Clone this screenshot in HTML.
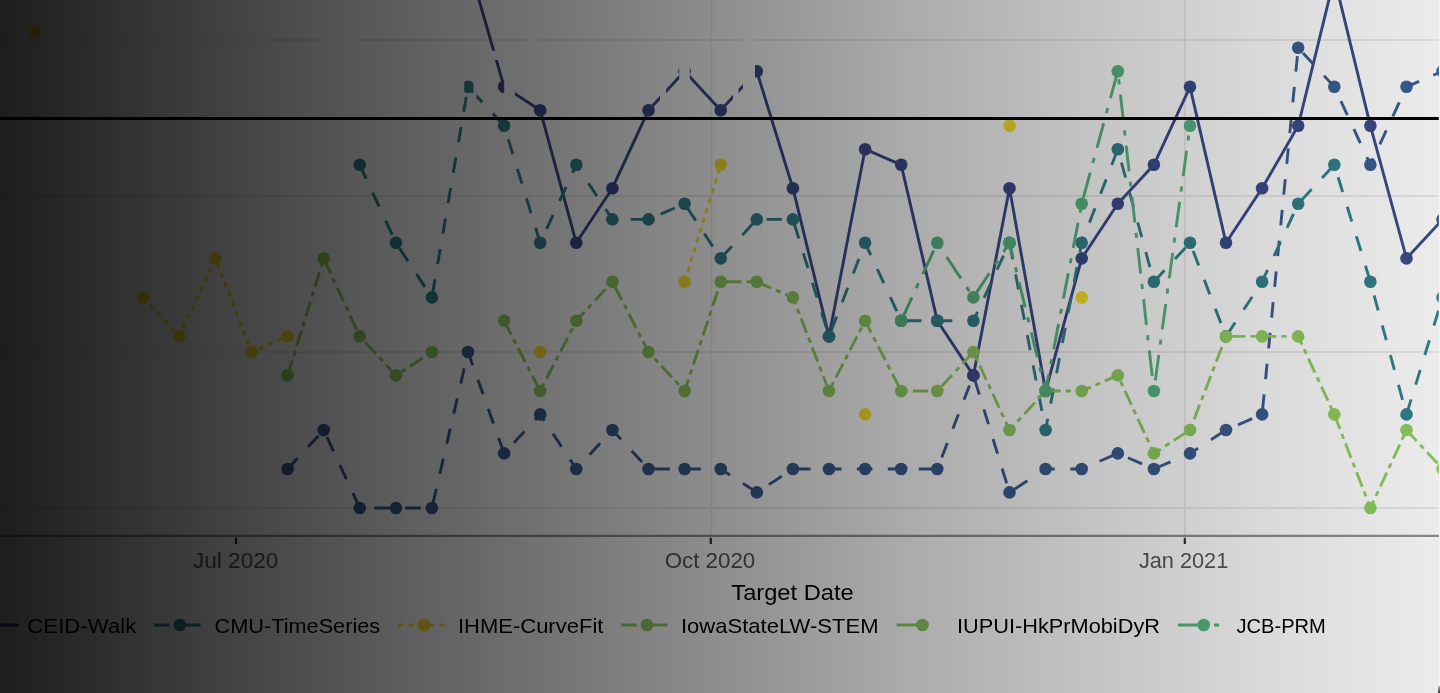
<!DOCTYPE html>
<html><head><meta charset="utf-8">
<style>
html,body{margin:0;padding:0;background:#fff;}
body{width:1440px;height:693px;overflow:hidden;position:relative;font-family:"Liberation Sans",sans-serif;}
svg{position:absolute;left:0;top:0;will-change:transform;}
.tk{font-size:21.6px;fill:#5a5a5a;}
.ti{font-size:21.4px;fill:#000;}
.lg{font-size:20.6px;fill:#000;}
#ov{position:absolute;left:0;top:0;width:1440px;height:693px;background:linear-gradient(to right, rgba(0,0,0,0.886) 0%, rgba(0,0,0,0.773) 12.5%, rgba(0,0,0,0.659) 25%, rgba(0,0,0,0.553) 37.5%, rgba(0,0,0,0.443) 50%, rgba(0,0,0,0.333) 62.5%, rgba(0,0,0,0.239) 75%, rgba(0,0,0,0.149) 87.5%, rgba(0,0,0,0.075) 100%);}
</style></head><body>
<svg width="1440" height="693" viewBox="0 0 1440 693" font-family="Liberation Sans, sans-serif">
<rect x="0" y="0" width="1440" height="693" fill="#fff"/>
<defs><clipPath id="pc"><rect x="0" y="0" width="1438.8" height="535"/></clipPath></defs>
<g clip-path="url(#pc)">
<g stroke="#ebebeb" stroke-width="1.8" fill="none">
<path d="M0,40H1440 M0,196H1440 M0,352H1440 M0,508H1440"/>
<path d="M711.3,0V535 M1184.8,0V535"/>
</g>
<g>
<path d="M287.6,469.0 L323.7,430.0 L359.8,508.0 L395.9,508.0 L431.9,508.0 L468.0,352.0 L504.1,453.4 L540.2,414.4 L576.3,469.0 L612.4,430.0 L648.5,469.0 L684.6,469.0 L720.7,469.0 L756.8,492.4 L792.9,469.0 L829.0,469.0 L865.1,469.0 L901.2,469.0 L937.3,469.0 L973.4,375.4 L1009.5,492.4 L1045.6,469.0 L1081.7,469.0 L1117.8,453.4 L1153.9,469.0 L1190.0,453.4 L1226.0,430.0 L1262.1,414.4 L1298.2,47.8 L1334.3,86.8 L1370.4,164.8 L1406.5,86.8 L1442.6,71.2" fill="none" stroke="#3c5f92" stroke-width="2.9" stroke-dasharray="15.45,15.45" stroke-dashoffset="0.9" stroke-linejoin="round"/>
<circle cx="287.6" cy="469.0" r="6.3" fill="#3c5f92"/>
<circle cx="323.7" cy="430.0" r="6.3" fill="#3c5f92"/>
<circle cx="359.8" cy="508.0" r="6.3" fill="#3c5f92"/>
<circle cx="395.9" cy="508.0" r="6.3" fill="#3c5f92"/>
<circle cx="431.9" cy="508.0" r="6.3" fill="#3c5f92"/>
<circle cx="468.0" cy="352.0" r="6.3" fill="#3c5f92"/>
<circle cx="504.1" cy="453.4" r="6.3" fill="#3c5f92"/>
<circle cx="540.2" cy="414.4" r="6.3" fill="#3c5f92"/>
<circle cx="576.3" cy="469.0" r="6.3" fill="#3c5f92"/>
<circle cx="612.4" cy="430.0" r="6.3" fill="#3c5f92"/>
<circle cx="648.5" cy="469.0" r="6.3" fill="#3c5f92"/>
<circle cx="684.6" cy="469.0" r="6.3" fill="#3c5f92"/>
<circle cx="720.7" cy="469.0" r="6.3" fill="#3c5f92"/>
<circle cx="756.8" cy="492.4" r="6.3" fill="#3c5f92"/>
<circle cx="792.9" cy="469.0" r="6.3" fill="#3c5f92"/>
<circle cx="829.0" cy="469.0" r="6.3" fill="#3c5f92"/>
<circle cx="865.1" cy="469.0" r="6.3" fill="#3c5f92"/>
<circle cx="901.2" cy="469.0" r="6.3" fill="#3c5f92"/>
<circle cx="937.3" cy="469.0" r="6.3" fill="#3c5f92"/>
<circle cx="973.4" cy="375.4" r="6.3" fill="#3c5f92"/>
<circle cx="1009.5" cy="492.4" r="6.3" fill="#3c5f92"/>
<circle cx="1045.6" cy="469.0" r="6.3" fill="#3c5f92"/>
<circle cx="1081.7" cy="469.0" r="6.3" fill="#3c5f92"/>
<circle cx="1117.8" cy="453.4" r="6.3" fill="#3c5f92"/>
<circle cx="1153.9" cy="469.0" r="6.3" fill="#3c5f92"/>
<circle cx="1190.0" cy="453.4" r="6.3" fill="#3c5f92"/>
<circle cx="1226.0" cy="430.0" r="6.3" fill="#3c5f92"/>
<circle cx="1262.1" cy="414.4" r="6.3" fill="#3c5f92"/>
<circle cx="1298.2" cy="47.8" r="6.3" fill="#3c5f92"/>
<circle cx="1334.3" cy="86.8" r="6.3" fill="#3c5f92"/>
<circle cx="1370.4" cy="164.8" r="6.3" fill="#3c5f92"/>
<circle cx="1406.5" cy="86.8" r="6.3" fill="#3c5f92"/>
<circle cx="1442.6" cy="71.2" r="6.3" fill="#3c5f92"/>
<path d="M468.0,-38.0 L504.1,86.8 L540.2,110.2 L576.3,242.8 L612.4,188.2 L648.5,110.2 L684.6,71.2 L720.7,110.2 L756.8,71.2 L792.9,188.2 L829.0,336.4 L865.1,149.2 L901.2,164.8 L937.3,320.8 L973.4,375.4 L1009.5,188.2 L1045.6,391.0 L1081.7,258.4 L1117.8,203.8 L1153.9,164.8 L1190.0,86.8 L1226.0,242.8 L1262.1,188.2 L1298.2,125.8 L1334.3,-22.4 L1370.4,125.8 L1406.5,258.4 L1442.6,219.4" fill="none" stroke="#3d4d8c" stroke-width="2.9" stroke-linejoin="round"/>
<circle cx="468.0" cy="-38.0" r="6.3" fill="#3d4d8c"/>
<circle cx="504.1" cy="86.8" r="6.3" fill="#3d4d8c"/>
<circle cx="540.2" cy="110.2" r="6.3" fill="#3d4d8c"/>
<circle cx="576.3" cy="242.8" r="6.3" fill="#3d4d8c"/>
<circle cx="612.4" cy="188.2" r="6.3" fill="#3d4d8c"/>
<circle cx="648.5" cy="110.2" r="6.3" fill="#3d4d8c"/>
<circle cx="684.6" cy="71.2" r="6.3" fill="#3d4d8c"/>
<circle cx="720.7" cy="110.2" r="6.3" fill="#3d4d8c"/>
<circle cx="756.8" cy="71.2" r="6.3" fill="#3d4d8c"/>
<circle cx="792.9" cy="188.2" r="6.3" fill="#3d4d8c"/>
<circle cx="829.0" cy="336.4" r="6.3" fill="#3d4d8c"/>
<circle cx="865.1" cy="149.2" r="6.3" fill="#3d4d8c"/>
<circle cx="901.2" cy="164.8" r="6.3" fill="#3d4d8c"/>
<circle cx="937.3" cy="320.8" r="6.3" fill="#3d4d8c"/>
<circle cx="973.4" cy="375.4" r="6.3" fill="#3d4d8c"/>
<circle cx="1009.5" cy="188.2" r="6.3" fill="#3d4d8c"/>
<circle cx="1045.6" cy="391.0" r="6.3" fill="#3d4d8c"/>
<circle cx="1081.7" cy="258.4" r="6.3" fill="#3d4d8c"/>
<circle cx="1117.8" cy="203.8" r="6.3" fill="#3d4d8c"/>
<circle cx="1153.9" cy="164.8" r="6.3" fill="#3d4d8c"/>
<circle cx="1190.0" cy="86.8" r="6.3" fill="#3d4d8c"/>
<circle cx="1226.0" cy="242.8" r="6.3" fill="#3d4d8c"/>
<circle cx="1262.1" cy="188.2" r="6.3" fill="#3d4d8c"/>
<circle cx="1298.2" cy="125.8" r="6.3" fill="#3d4d8c"/>
<circle cx="1334.3" cy="-22.4" r="6.3" fill="#3d4d8c"/>
<circle cx="1370.4" cy="125.8" r="6.3" fill="#3d4d8c"/>
<circle cx="1406.5" cy="258.4" r="6.3" fill="#3d4d8c"/>
<circle cx="1442.6" cy="219.4" r="6.3" fill="#3d4d8c"/>
<path d="M359.8,164.8 L395.9,242.8 L431.9,297.4 L468.0,86.8 L504.1,125.8 L540.2,242.8 L576.3,164.8 L612.4,219.4 L648.5,219.4 L684.6,203.8 L720.7,258.4 L756.8,219.4 L792.9,219.4 L829.0,336.4 L865.1,242.8 L901.2,320.8 L937.3,320.8 L973.4,320.8 L1009.5,242.8 L1045.6,430.0 L1081.7,242.8 L1117.8,149.2 L1153.9,281.8 L1190.0,242.8 L1226.0,336.4 L1262.1,281.8 L1298.2,203.8 L1334.3,164.8 L1370.4,281.8 L1406.5,414.4 L1442.6,297.4" fill="none" stroke="#33838d" stroke-width="2.9" stroke-dasharray="15.45,15.45" stroke-dashoffset="0.3" stroke-linejoin="round"/>
<circle cx="359.8" cy="164.8" r="6.3" fill="#33838d"/>
<circle cx="395.9" cy="242.8" r="6.3" fill="#33838d"/>
<circle cx="431.9" cy="297.4" r="6.3" fill="#33838d"/>
<circle cx="468.0" cy="86.8" r="6.3" fill="#33838d"/>
<circle cx="504.1" cy="125.8" r="6.3" fill="#33838d"/>
<circle cx="540.2" cy="242.8" r="6.3" fill="#33838d"/>
<circle cx="576.3" cy="164.8" r="6.3" fill="#33838d"/>
<circle cx="612.4" cy="219.4" r="6.3" fill="#33838d"/>
<circle cx="648.5" cy="219.4" r="6.3" fill="#33838d"/>
<circle cx="684.6" cy="203.8" r="6.3" fill="#33838d"/>
<circle cx="720.7" cy="258.4" r="6.3" fill="#33838d"/>
<circle cx="756.8" cy="219.4" r="6.3" fill="#33838d"/>
<circle cx="792.9" cy="219.4" r="6.3" fill="#33838d"/>
<circle cx="829.0" cy="336.4" r="6.3" fill="#33838d"/>
<circle cx="865.1" cy="242.8" r="6.3" fill="#33838d"/>
<circle cx="901.2" cy="320.8" r="6.3" fill="#33838d"/>
<circle cx="937.3" cy="320.8" r="6.3" fill="#33838d"/>
<circle cx="973.4" cy="320.8" r="6.3" fill="#33838d"/>
<circle cx="1009.5" cy="242.8" r="6.3" fill="#33838d"/>
<circle cx="1045.6" cy="430.0" r="6.3" fill="#33838d"/>
<circle cx="1081.7" cy="242.8" r="6.3" fill="#33838d"/>
<circle cx="1117.8" cy="149.2" r="6.3" fill="#33838d"/>
<circle cx="1153.9" cy="281.8" r="6.3" fill="#33838d"/>
<circle cx="1190.0" cy="242.8" r="6.3" fill="#33838d"/>
<circle cx="1226.0" cy="336.4" r="6.3" fill="#33838d"/>
<circle cx="1262.1" cy="281.8" r="6.3" fill="#33838d"/>
<circle cx="1298.2" cy="203.8" r="6.3" fill="#33838d"/>
<circle cx="1334.3" cy="164.8" r="6.3" fill="#33838d"/>
<circle cx="1370.4" cy="281.8" r="6.3" fill="#33838d"/>
<circle cx="1406.5" cy="414.4" r="6.3" fill="#33838d"/>
<circle cx="1442.6" cy="297.4" r="6.3" fill="#33838d"/>
<path d="M143.2,297.4 L179.3,336.4 L215.4,258.4 L251.5,352.0 L287.6,336.4" fill="none" stroke="#fbe32e" stroke-width="2.9" stroke-dasharray="5.15,5.15" stroke-linejoin="round"/>
<path d="M684.6,281.8 L720.7,164.8" fill="none" stroke="#fbe32e" stroke-width="2.9" stroke-dasharray="5.15,5.15" stroke-linejoin="round"/>
<circle cx="34.9" cy="32.2" r="6.3" fill="#fbe32e"/>
<circle cx="143.2" cy="297.4" r="6.3" fill="#fbe32e"/>
<circle cx="179.3" cy="336.4" r="6.3" fill="#fbe32e"/>
<circle cx="215.4" cy="258.4" r="6.3" fill="#fbe32e"/>
<circle cx="251.5" cy="352.0" r="6.3" fill="#fbe32e"/>
<circle cx="287.6" cy="336.4" r="6.3" fill="#fbe32e"/>
<circle cx="540.2" cy="352.0" r="6.3" fill="#fbe32e"/>
<circle cx="684.6" cy="281.8" r="6.3" fill="#fbe32e"/>
<circle cx="720.7" cy="164.8" r="6.3" fill="#fbe32e"/>
<circle cx="865.1" cy="414.4" r="6.3" fill="#fbe32e"/>
<circle cx="1009.5" cy="125.8" r="6.3" fill="#fbe32e"/>
<circle cx="1081.7" cy="297.4" r="6.3" fill="#fbe32e"/>
<path d="M287.6,375.4 L323.7,258.4 L359.8,336.4 L395.9,375.4 L431.9,352.0" fill="none" stroke="#92cf62" stroke-width="2.9" stroke-dasharray="15.45,5.15,5.15,5.15" stroke-linejoin="round"/>
<path d="M504.1,320.8 L540.2,391.0 L576.3,320.8 L612.4,281.8 L648.5,352.0 L684.6,391.0 L720.7,281.8 L756.8,281.8 L792.9,297.4 L829.0,391.0 L865.1,320.8 L901.2,391.0 L937.3,391.0 L973.4,352.0 L1009.5,430.0 L1045.6,391.0 L1081.7,391.0 L1117.8,375.4 L1153.9,453.4 L1190.0,430.0 L1226.0,336.4 L1262.1,336.4 L1298.2,336.4 L1334.3,414.4 L1370.4,508.0 L1406.5,430.0 L1442.6,469.0" fill="none" stroke="#92cf62" stroke-width="2.9" stroke-dasharray="15.45,5.15,5.15,5.15" stroke-linejoin="round"/>
<circle cx="287.6" cy="375.4" r="6.3" fill="#92cf62"/>
<circle cx="323.7" cy="258.4" r="6.3" fill="#92cf62"/>
<circle cx="359.8" cy="336.4" r="6.3" fill="#92cf62"/>
<circle cx="395.9" cy="375.4" r="6.3" fill="#92cf62"/>
<circle cx="431.9" cy="352.0" r="6.3" fill="#92cf62"/>
<circle cx="504.1" cy="320.8" r="6.3" fill="#92cf62"/>
<circle cx="540.2" cy="391.0" r="6.3" fill="#92cf62"/>
<circle cx="576.3" cy="320.8" r="6.3" fill="#92cf62"/>
<circle cx="612.4" cy="281.8" r="6.3" fill="#92cf62"/>
<circle cx="648.5" cy="352.0" r="6.3" fill="#92cf62"/>
<circle cx="684.6" cy="391.0" r="6.3" fill="#92cf62"/>
<circle cx="720.7" cy="281.8" r="6.3" fill="#92cf62"/>
<circle cx="756.8" cy="281.8" r="6.3" fill="#92cf62"/>
<circle cx="792.9" cy="297.4" r="6.3" fill="#92cf62"/>
<circle cx="829.0" cy="391.0" r="6.3" fill="#92cf62"/>
<circle cx="865.1" cy="320.8" r="6.3" fill="#92cf62"/>
<circle cx="901.2" cy="391.0" r="6.3" fill="#92cf62"/>
<circle cx="937.3" cy="391.0" r="6.3" fill="#92cf62"/>
<circle cx="973.4" cy="352.0" r="6.3" fill="#92cf62"/>
<circle cx="1009.5" cy="430.0" r="6.3" fill="#92cf62"/>
<circle cx="1045.6" cy="391.0" r="6.3" fill="#92cf62"/>
<circle cx="1081.7" cy="391.0" r="6.3" fill="#92cf62"/>
<circle cx="1117.8" cy="375.4" r="6.3" fill="#92cf62"/>
<circle cx="1153.9" cy="453.4" r="6.3" fill="#92cf62"/>
<circle cx="1190.0" cy="430.0" r="6.3" fill="#92cf62"/>
<circle cx="1226.0" cy="336.4" r="6.3" fill="#92cf62"/>
<circle cx="1262.1" cy="336.4" r="6.3" fill="#92cf62"/>
<circle cx="1298.2" cy="336.4" r="6.3" fill="#92cf62"/>
<circle cx="1334.3" cy="414.4" r="6.3" fill="#92cf62"/>
<circle cx="1370.4" cy="508.0" r="6.3" fill="#92cf62"/>
<circle cx="1406.5" cy="430.0" r="6.3" fill="#92cf62"/>
<circle cx="1442.6" cy="469.0" r="6.3" fill="#92cf62"/>
<path d="M901.2,320.8 L937.3,242.8 L973.4,297.4 L1009.5,242.8 L1045.6,391.0 L1081.7,203.8 L1117.8,71.2 L1153.9,391.0 L1190.0,125.8" fill="none" stroke="#5ab682" stroke-width="2.9" stroke-dasharray="25.75,10.3,5.15,10.3" stroke-linejoin="round"/>
<circle cx="901.2" cy="320.8" r="6.3" fill="#5ab682"/>
<circle cx="937.3" cy="242.8" r="6.3" fill="#5ab682"/>
<circle cx="973.4" cy="297.4" r="6.3" fill="#5ab682"/>
<circle cx="1009.5" cy="242.8" r="6.3" fill="#5ab682"/>
<circle cx="1045.6" cy="391.0" r="6.3" fill="#5ab682"/>
<circle cx="1081.7" cy="203.8" r="6.3" fill="#5ab682"/>
<circle cx="1117.8" cy="71.2" r="6.3" fill="#5ab682"/>
<circle cx="1153.9" cy="391.0" r="6.3" fill="#5ab682"/>
<circle cx="1190.0" cy="125.8" r="6.3" fill="#5ab682"/>
</g>
<g fill="#fff">
<rect x="320.8" y="30" width="38.8" height="18"/>
<rect x="527.5" y="30" width="11.3" height="20"/>
<rect x="743" y="28" width="12" height="60"/>
<rect x="679.2" y="60" width="10.6" height="22"/>
<rect x="504.2" y="78" width="10.8" height="19"/>
<rect x="473.5" y="78" width="3" height="19"/>
<rect x="460" y="93.2" width="14" height="3.2"/>
<rect x="488" y="50.8" width="12" height="9.2"/>
<rect x="458" y="78" width="6.2" height="15"/>
<rect x="660" y="89" width="6" height="11"/>
<rect x="733" y="88" width="5.5" height="16"/>
</g>
<path d="M0,118.4H1440" stroke="#000" stroke-width="3"/>
</g>
<path d="M0,535.85H1440" stroke="#919191" stroke-width="2.1"/>
<path d="M236,537.8V543.9 M710.8,537.8V543.9 M1184.8,537.8V543.9" stroke="#333" stroke-width="2.2"/>
<text x="193" y="568" textLength="85.3" lengthAdjust="spacingAndGlyphs" class="tk">Jul 2020</text>
<text x="664.7" y="568" textLength="90.6" lengthAdjust="spacingAndGlyphs" class="tk">Oct 2020</text>
<text x="1138.9" y="568.3" textLength="89.4" lengthAdjust="spacingAndGlyphs" class="tk">Jan 2021</text>
<text x="731.3" y="599.7" textLength="122.4" lengthAdjust="spacingAndGlyphs" class="ti">Target Date</text>
<path d="M-32.7,625 h51.6" stroke="#3d4d8c" stroke-width="2.9" fill="none"/>
<circle cx="-6.9" cy="625" r="6.3" fill="#3d4d8c"/>
<text x="27.3" y="633" textLength="109.0" lengthAdjust="spacingAndGlyphs" class="lg">CEID-Walk</text>
<path d="M154.1,625 h51.6" stroke="#33838d" stroke-width="2.9" fill="none" stroke-dasharray="15.45,15.45"/>
<circle cx="179.9" cy="625" r="6.3" fill="#33838d"/>
<text x="214.5" y="633" textLength="165.7" lengthAdjust="spacingAndGlyphs" class="lg">CMU-TimeSeries</text>
<path d="M398.1,625 h51.6" stroke="#fbe32e" stroke-width="2.9" fill="none" stroke-dasharray="5.15,5.15"/>
<circle cx="423.9" cy="625" r="6.3" fill="#fbe32e"/>
<text x="457.9" y="633" textLength="145.5" lengthAdjust="spacingAndGlyphs" class="lg">IHME-CurveFit</text>
<path d="M621.2,625 h51.6" stroke="#92cf62" stroke-width="2.9" fill="none" stroke-dasharray="15.45,5.15,5.15,5.15"/>
<circle cx="647.0" cy="625" r="6.3" fill="#92cf62"/>
<text x="681.0" y="633" textLength="197.5" lengthAdjust="spacingAndGlyphs" class="lg">IowaStateLW-STEM</text>
<path d="M896.7,625 h51.6" stroke="#86c862" stroke-width="2.9" fill="none" stroke-dasharray="25.75,25.75"/>
<circle cx="922.5" cy="625" r="6.3" fill="#86c862"/>
<text x="957.0" y="633" textLength="203.0" lengthAdjust="spacingAndGlyphs" class="lg">IUPUI-HkPrMobiDyR</text>
<path d="M1177.9,625 h51.6" stroke="#5ab682" stroke-width="2.9" fill="none" stroke-dasharray="25.75,10.3,5.15,10.3"/>
<circle cx="1203.7" cy="625" r="6.3" fill="#5ab682"/>
<text x="1236.5" y="633" textLength="89.3" lengthAdjust="spacingAndGlyphs" class="lg">JCB-PRM</text>
</svg>
<div id="ov"></div>
<div style="position:absolute;left:1439px;top:0;width:1px;height:693px;background:#f4f4f4"></div>
<div style="position:absolute;left:1438px;top:686px;width:2px;height:7px;background:linear-gradient(to bottom,#bbb,#333)"></div>
</body></html>
